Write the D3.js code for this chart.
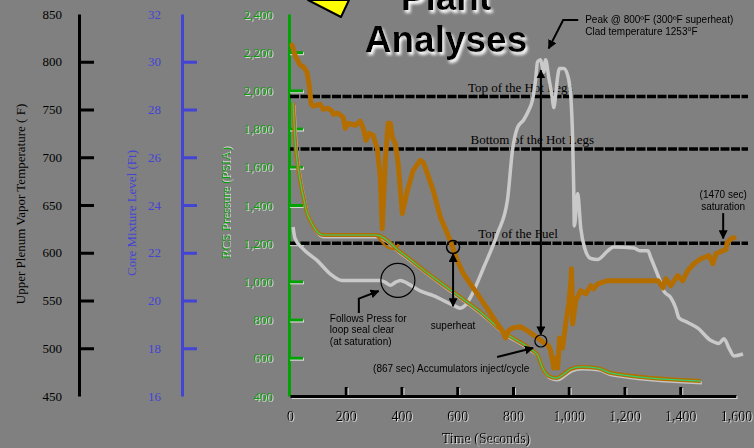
<!DOCTYPE html>
<html>
<head>
<meta charset="utf-8">
<script src="https://cdn.jsdelivr.net/npm/d3@7"></script>
<style>
  html, body { margin: 0; padding: 0; background: #808080; }
  svg { display: block; }
</style>
</head>
<body>
<svg id="chart" width="754" height="448"></svg>
<script>
// ---- axis ticks ----
const timeTicks = [0, 200, 400, 600, 800, 1000, 1200, 1400, 1600];
const tempTicks = [450, 500, 550, 600, 650, 700, 750, 800, 850];
const levelTicks = [16, 18, 20, 22, 24, 26, 28, 30, 32];
const pressureTicks = [400, 600, 800, 1000, 1200, 1400, 1600, 1800, 2000, 2200, 2400];

// ---- core mixture level [sec, ft] ----
const mixtureLevel = [
  [7,30.70],[18,30.28],[36,29.86],[50,29.77],[61,29.56],[68,29.10],[76,28.22],[83,28.14],
  [108,28.22],[119,28.01],[137,28.05],[151,27.93],[155,27.80],[173,27.84],[191,27.67],
  [198,27.21],[209,27.42],[234,27.34],[252,27.51],[262,27.25],[273,26.71],[284,27.00],
  [298,26.92],[313,26.37],[324,25.15],[331,23.01],[342,25.87],[352,27.42],[360,27.42],
  [367,26.83],[378,26.58],[388,25.74],[403,23.64],[421,24.61],[442,25.45],[467,25.87],
  [478,25.78],[493,25.32],[514,24.60],[539,23.51],[575,22.51],[600,21.67],[622,21.12],
  [672,20.28],[730,19.27],[766,18.64],[773,18.43],[784,18.73],[798,18.85],[827,18.90],
  [852,18.73],[888,18.43],[917,18.18],[928,18.10],[935,17.89],[942,17.47],[946,17.17],
  [953,17.59],[960,17.17],[964,17.76],[967,18.43],[978,18.01],[989,19.02],[1000,19.86],
  [1007,20.70],[1010,21.33],[1014,19.02],[1025,19.99],[1043,20.41],[1061,20.28],
  [1079,20.62],[1089,20.49],[1104,20.70],[1115,20.74],[1140,20.83],[1320,20.83],
  [1338,20.53],[1348,20.91],[1366,20.62],[1391,21.04],[1409,20.83],[1427,21.25],
  [1449,21.54],[1474,21.75],[1503,21.88],[1517,21.54],[1528,21.96],[1553,22.09],
  [1564,22.13],[1568,22.42],[1582,22.59],[1593,22.63]
];

// ---- upper plenum vapor temperature [sec, F] ----
const plenumTemp = [
  [11,627],[18,615],[47,604],[97,592],[144,578],[187,571],[324,571],[342,569],[360,566],
  [378,569],[396,571],[421,568],[467,560],[514,555],[586,545],[611,542],[629,545],
  [647,553],[694,584],[744,620],[780,655],[798,707],[816,731],[838,739],[856,749],
  [870,760],[881,781],[888,800],[899,802],[910,789],[917,802],[928,784],[942,760],
  [946,752],[953,765],[960,784],[967,793],[982,793],[996,786],[1007,765],[1014,718],
  [1018,665],[1020,628],[1032,662],[1043,626],[1057,605],[1079,594],[1104,593],
  [1140,602],[1161,606],[1233,605],[1258,602],[1284,602],[1294,595],[1323,574],
  [1341,560],[1366,553],[1384,542],[1395,532],[1427,527],[1463,521],[1510,508],
  [1539,505],[1557,510],[1575,500],[1593,492],[1625,494]
];

// ---- RCS pressure [sec, psia] ----
const rcsPressure = [
  [11,1934],[18,1740],[30,1583],[48,1442],[61,1358],[72,1321],[90,1274],[119,1243],
  [309,1243],[396,1154],[503,1033],[611,918],[683,840],[766,735],[863,646],[888,615],
  [906,547],[928,505],[956,494],[982,515],[1007,541],[1043,552],[1104,546],[1151,520],
  [1474,478]
];
// short excursion of the pressure trace outline near loop seal clearing
const pressureEdge = [[312,1238],[330,1205],[348,1180],[369,1170],[384,1180],[390,1195]];

// ---- elevation markers [ft] ----
const elevationNames = ["Top of the Hot Legs", "Bottom of the Hot Legs", "Top of the Fuel"];
const elevationLevels = [28.54, 26.35, 22.40];

// ---- setup ----
const svg = d3.select("#chart");
const serif = "'Liberation Serif', 'Times New Roman', serif";
const sans = "'Liberation Sans', Arial, sans-serif";
const ORANGE = "#b46e00", GREEN = "#00a400", BLUE = "#4343d6", LIGHT = "#c9c9c9";

const defs = svg.append("defs");
const glow = defs.append("filter").attr("id", "glow")
  .attr("x", "-10%").attr("y", "-20%").attr("width", "130%").attr("height", "160%");
glow.append("feGaussianBlur").attr("in", "SourceAlpha").attr("stdDeviation", 1.6).attr("result", "b");
glow.append("feOffset").attr("in", "b").attr("dx", 2).attr("dy", 3).attr("result", "o");
glow.append("feFlood").attr("flood-color", "#ffffff").attr("result", "f");
glow.append("feComposite").attr("in", "f").attr("in2", "o").attr("operator", "in").attr("result", "s");
const gm = glow.append("feMerge");
gm.append("feMergeNode").attr("in", "s");
gm.append("feMergeNode").attr("in", "SourceGraphic");

defs.append("filter").attr("id", "lift")
  .append("feDropShadow").attr("dx", 1).attr("dy", 1).attr("stdDeviation", 0.2)
  .attr("flood-color", "#dcdcdc").attr("flood-opacity", 0.9);

defs.append("marker").attr("id", "arrow").attr("viewBox", "0 0 10 10")
  .attr("refX", 9).attr("refY", 5).attr("markerWidth", 9).attr("markerHeight", 9)
  .attr("markerUnits", "userSpaceOnUse").attr("orient", "auto-start-reverse")
  .append("path").attr("d", "M0,0L10,5L0,10Z").attr("fill", "#000");

// ---- scales ----
const x = d3.scaleLinear().domain([0, 1600]).range([290, 736]);
const yT = d3.scaleLinear().domain([450, 850]).range([396, 14]);
const yL = d3.scaleLinear().domain([16, 32]).range([396, 14]);
const yP = d3.scaleLinear().domain([400, 2400]).range([396, 14]);

// ---- title ----
const title = svg.append("g").attr("filter", "url(#glow)")
  .attr("font-family", sans).attr("font-weight", "bold").attr("font-size", 37)
  .attr("text-anchor", "middle").attr("fill", "#000");
title.append("text").attr("x", 446).attr("y", 10).text("Plant");
title.append("text").attr("x", 446).attr("y", 52).text("Analyses");

svg.append("polygon").attr("points", "308,0 341,17 349,0")
  .attr("fill", "#ffff00").attr("stroke", "#000").attr("stroke-width", 2).attr("stroke-linejoin", "round");

// ---- vertical axes ----
function styleAxis(g, color, ends) {
  g.attr("color", color).attr("font-family", serif).attr("font-size", 13);
  g.select(".domain").attr("stroke-width", 3);
  g.selectAll(".tick line").attr("stroke-width", 3)
    .attr("display", d => ends.includes(d) ? "none" : null);
}

const gT = svg.append("g").attr("transform", "translate(79,0)")
  .call(d3.axisLeft(yT).tickValues(tempTicks).tickSize(-15).tickSizeOuter(0).tickPadding(17).tickFormat(d3.format("d")));
styleAxis(gT, "#000", [450, 850]);

const gL = svg.append("g").attr("transform", "translate(182,0)")
  .call(d3.axisLeft(yL).tickValues(levelTicks).tickSize(-15).tickSizeOuter(0).tickPadding(21).tickFormat(d3.format("d")));
styleAxis(gL, BLUE, [16, 32]);

const gP = svg.append("g").attr("transform", "translate(289,0)")
  .call(d3.axisLeft(yP).tickValues(pressureTicks).tickSize(-14).tickSizeOuter(0).tickPadding(16).tickFormat(d3.format(",")));
styleAxis(gP, GREEN, [400, 2400]);
gP.selectAll(".tick").attr("filter", "url(#lift)");

// axis titles
svg.append("text").attr("transform", "translate(25,204) rotate(-90)")
  .attr("text-anchor", "middle").attr("font-family", serif).attr("font-size", 13).attr("fill", "#000")
  .text("Upper Plenum Vapor Temperature (  F)");
svg.append("text").attr("transform", "translate(136,213) rotate(-90)")
  .attr("text-anchor", "middle").attr("font-family", serif).attr("font-size", 13).attr("fill", BLUE)
  .text("Core Mixture Level (Ft)");
svg.append("text").attr("transform", "translate(230,203) rotate(-90)")
  .attr("text-anchor", "middle").attr("font-family", serif).attr("font-size", 13).attr("fill", GREEN)
  .attr("filter", "url(#lift)")
  .text("RCS Pressure (PSIA)");

// ---- time axis ----
const gX = svg.append("g").attr("transform", "translate(0,396)")
  .call(d3.axisBottom(x).tickValues(timeTicks).tickSize(-9).tickSizeOuter(0).tickPadding(15).tickFormat(d3.format(",")));
styleAxis(gX, "#000", [0, 1600]);
gX.attr("font-size", 14).attr("filter", "url(#lift)");

svg.append("text").attr("x", 486).attr("y", 443).attr("text-anchor", "middle")
  .attr("font-family", serif).attr("font-size", 14).attr("fill", "#000").attr("filter", "url(#lift)")
  .text("Time (Seconds)");

// ---- elevation markers ----
const labelTimes = [826, 869, 818];
elevationLevels.forEach((lv, i) => {
  svg.append("line").attr("x1", x(0)).attr("x2", 748).attr("y1", yL(lv)).attr("y2", yL(lv))
    .attr("stroke", "#000").attr("stroke-width", 3.5).attr("stroke-dasharray", "9,1.5");
  svg.append("text").attr("x", x(labelTimes[i])).attr("y", yL(lv) - 5).attr("text-anchor", "middle")
    .attr("font-family", serif).attr("font-size", 13).attr("fill", "#000").text(elevationNames[i]);
});

// ---- series ----
const lineT = d3.line().x(d => x(d[0])).y(d => yT(d[1])).curve(d3.curveMonotoneX);
const lineL = d3.line().x(d => x(d[0])).y(d => yL(d[1]));
const lineP = d3.line().x(d => x(d[0])).y(d => yP(d[1])).curve(d3.curveMonotoneX);

svg.append("path").datum(plenumTemp).attr("d", lineT)
  .attr("fill", "none").attr("stroke", LIGHT).attr("stroke-width", 3.5).attr("stroke-linejoin", "round");

svg.append("path").datum(rcsPressure).attr("d", lineP).attr("transform", "translate(1,2)")
  .attr("fill", "none").attr("stroke", "#c4c4c4").attr("stroke-width", 3);
svg.append("path").datum(pressureEdge).attr("d", lineP)
  .attr("fill", "none").attr("stroke", ORANGE).attr("stroke-width", 2.5);
svg.append("path").datum(rcsPressure).attr("d", lineP)
  .attr("fill", "none").attr("stroke", ORANGE).attr("stroke-width", 4);
svg.append("path").datum(rcsPressure).attr("d", lineP)
  .attr("fill", "none").attr("stroke", "#2fd070").attr("stroke-width", 1.2);

svg.append("path").datum(mixtureLevel).attr("d", lineL)
  .attr("fill", "none").attr("stroke", ORANGE).attr("stroke-width", 5)
  .attr("stroke-linejoin", "round").attr("stroke-linecap", "round");

// ---- annotations ----
const note = svg.append("g").attr("font-family", sans).attr("font-size", 10).attr("fill", "#000");
const arrowLine = (pts) => svg.append("path").attr("d", d3.line()(pts))
  .attr("fill", "none").attr("stroke", "#000").attr("stroke-width", 2);

// loop seal clearing
svg.append("circle").attr("cx", x(387)).attr("cy", yT(571)).attr("r", 17)
  .attr("fill", "none").attr("stroke", "#000").attr("stroke-width", 1.2);
arrowLine([[x(247), yT(537)], [x(247), yT(552)], [x(318), yT(560)]]).attr("marker-end", "url(#arrow)");
const follows = note.append("text").attr("x", x(143)).attr("y", yT(528));
["Follows Press for", "loop seal clear", "(at saturation)"].forEach((s, i) =>
  follows.append("tspan").attr("x", x(143)).attr("dy", i ? 11.7 : 0).text(s));

// superheat at top of fuel
svg.append("circle").attr("cx", x(585)).attr("cy", yL(22.24)).attr("r", 6.5)
  .attr("fill", "none").attr("stroke", "#000").attr("stroke-width", 1.5);
arrowLine([[x(585), yL(21.95)], [x(585), yT(544)]])
  .attr("marker-start", "url(#arrow)").attr("marker-end", "url(#arrow)");
note.append("text").attr("x", x(585)).attr("y", yT(520)).attr("text-anchor", "middle").text("superheat");

// peak temperature
svg.append("circle").attr("cx", x(900)).attr("cy", yP(688)).attr("r", 6)
  .attr("fill", "none").attr("stroke", "#000").attr("stroke-width", 1.2);
arrowLine([[x(900), yP(722)], [x(900), yT(791)]])
  .attr("marker-start", "url(#arrow)").attr("marker-end", "url(#arrow)");
arrowLine([[x(1034), yT(843.6)], [x(980), yT(843.6)], [x(928), yT(814)]]).attr("marker-end", "url(#arrow)");
note.append("text").attr("x", x(1059)).attr("y", yT(840.6)).text("Peak @ 800ºF (300ºF superheat)");
const clad = note.append("text").attr("x", x(1059)).attr("y", yT(828.4)).text("Clad temperature 1253");
clad.append("tspan").attr("font-size", 7).attr("dy", -4).text("o");
clad.append("tspan").attr("dy", 4).text("F");

// accumulators
arrowLine([[x(743), yP(604)], [x(872), yP(651)]]).attr("marker-end", "url(#arrow)");
note.append("text").attr("x", x(298)).attr("y", yP(526)).text("(867 sec) Accumulators inject/cycle");

// saturation
note.append("text").attr("x", x(1554)).attr("y", yL(24.29)).attr("text-anchor", "middle").text("(1470 sec)");
note.append("text").attr("x", x(1554)).attr("y", yL(23.79)).attr("text-anchor", "middle").text("saturation");
arrowLine([[x(1554), yL(23.66)], [x(1554), yL(22.6)]]).attr("marker-end", "url(#arrow)");
</script>
</body>
</html>
